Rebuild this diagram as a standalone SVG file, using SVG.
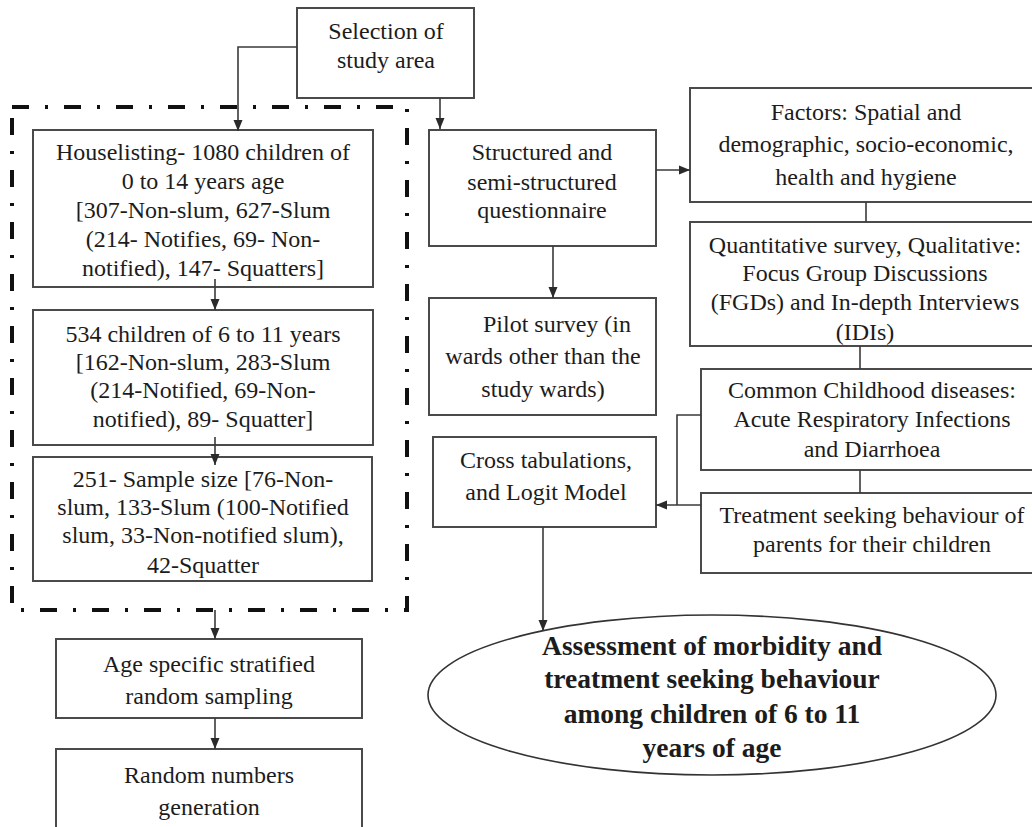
<svg xmlns="http://www.w3.org/2000/svg" width="1032" height="827" viewBox="0 0 1032 827">
<defs>
<marker id="arr" markerUnits="userSpaceOnUse" markerWidth="12" markerHeight="12" viewBox="0 0 12 12" refX="11" refY="6" orient="auto">
<path d="M0,1.5 L11,6 L0,10.5 Z" fill="#2a2a2a"/>
</marker>
<style>
.box{fill:#fff;stroke:#4a4a4a;stroke-width:2}
.t{font-size:24px;fill:#1c1c1c;text-anchor:middle}
.b{font-size:27.5px;font-weight:bold;fill:#1c1c1c;text-anchor:middle}
.c{fill:none;stroke:#3a3a3a;stroke-width:1.6}
.ca{fill:none;stroke:#3a3a3a;stroke-width:1.6;marker-end:url(#arr)}
.dash{fill:none;stroke:#111;stroke-width:4;stroke-dasharray:17 16 3 16}
</style>
</defs>
<rect width="1032" height="827" fill="#fff"/>

<g id="sampling-frame">
<rect class="dash" x="12" y="107" width="395" height="503"/>
</g>

<g font-family="Liberation Serif, Times New Roman, DejaVu Serif, serif">
<g id="selection">
<rect class="box" x="297" y="8" width="177" height="90"/>
<text class="t"><tspan x="386" y="39">Selection of</tspan><tspan x="386" y="68">study area</tspan></text>
</g>

<g id="houselisting">
<rect class="box" x="33" y="130" width="340" height="157"/>
<text class="t"><tspan x="203" y="160">Houselisting- 1080 children of</tspan><tspan x="203" y="189">0 to 14 years age</tspan><tspan x="203" y="218">[307-Non-slum, 627-Slum</tspan><tspan x="203" y="247">(214- Notifies, 69- Non-</tspan><tspan x="203" y="276">notified), 147- Squatters]</tspan></text>
</g>

<g id="children-534">
<rect class="box" x="33" y="310" width="340" height="135"/>
<text class="t"><tspan x="203" y="342">534 children of 6 to 11 years</tspan><tspan x="203" y="370">[162-Non-slum, 283-Slum</tspan><tspan x="203" y="398">(214-Notified, 69-Non-</tspan><tspan x="203" y="427">notified), 89- Squatter]</tspan></text>
</g>

<g id="sample-251">
<rect class="box" x="33" y="457" width="339" height="124"/>
<text class="t"><tspan x="203" y="487">251- Sample size [76-Non-</tspan><tspan x="203" y="515">slum, 133-Slum (100-Notified</tspan><tspan x="203" y="543">slum, 33-Non-notified slum),</tspan><tspan x="203" y="573">42-Squatter</tspan></text>
</g>

<g id="age-sampling">
<rect class="box" x="56" y="639" width="306" height="79"/>
<text class="t"><tspan x="209" y="672">Age specific stratified</tspan><tspan x="209" y="704">random sampling</tspan></text>
</g>

<g id="random-numbers">
<rect class="box" x="56" y="749" width="306" height="90"/>
<text class="t"><tspan x="209" y="783">Random numbers</tspan><tspan x="209" y="815">generation</tspan></text>
</g>

<g id="questionnaire">
<rect class="box" x="429" y="130" width="227" height="116"/>
<text class="t"><tspan x="542" y="160">Structured and</tspan><tspan x="542" y="190">semi-structured</tspan><tspan x="542" y="218">questionnaire</tspan></text>
</g>

<g id="pilot">
<rect class="box" x="429" y="298" width="227" height="117"/>
<text class="t"><tspan x="557" y="332">Pilot survey (in</tspan><tspan x="543" y="364">wards other than the</tspan><tspan x="543" y="397">study wards)</tspan></text>
</g>

<g id="cross-tab">
<rect class="box" x="433" y="437" width="223" height="90"/>
<text class="t"><tspan x="546" y="468">Cross tabulations,</tspan><tspan x="546" y="500">and Logit Model</tspan></text>
</g>

<g id="factors">
<rect class="box" x="690" y="88" width="360" height="114"/>
<text class="t"><tspan x="866" y="120">Factors: Spatial and</tspan><tspan x="866" y="152">demographic, socio-economic,</tspan><tspan x="866" y="185">health and hygiene</tspan></text>
</g>

<g id="survey">
<rect class="box" x="690" y="222" width="360" height="124"/>
<text class="t"><tspan x="865" y="253">Quantitative survey, Qualitative:</tspan><tspan x="865" y="281">Focus Group Discussions</tspan><tspan x="865" y="310">(FGDs) and In-depth Interviews</tspan><tspan x="865" y="340">(IDIs)</tspan></text>
</g>

<g id="diseases">
<rect class="box" x="701" y="369" width="349" height="101"/>
<text class="t"><tspan x="872" y="398">Common Childhood diseases:</tspan><tspan x="872" y="427">Acute Respiratory Infections</tspan><tspan x="872" y="457">and Diarrhoea</tspan></text>
</g>

<g id="treatment">
<rect class="box" x="701" y="493" width="349" height="80"/>
<text class="t"><tspan x="872" y="523">Treatment seeking behaviour of</tspan><tspan x="872" y="552">parents for their children</tspan></text>
</g>

<g id="assessment">
<ellipse cx="712" cy="695" rx="284" ry="80" fill="#fff" stroke="#333" stroke-width="1.6"/>
<text class="b"><tspan x="712" y="655">Assessment of morbidity and</tspan><tspan x="712" y="688">treatment seeking behaviour</tspan><tspan x="712" y="723">among children of 6 to 11</tspan><tspan x="712" y="757">years of age</tspan></text>
</g>
</g>

<g id="connectors">
<polyline class="ca" points="297,47 238,47 238,131"/>
<polyline class="ca" points="440,98 440,129"/>
<polyline class="ca" points="656,170 690,170"/>
<polyline class="c" points="866,202 866,222"/>
<polyline class="ca" points="553,246 553,298"/>
<polyline class="c" points="860,346 860,369"/>
<polyline class="c" points="860,470 860,493"/>
<polyline class="c" points="701,415 677,415 677,505"/>
<polyline class="ca" points="701,505 656,505"/>
<polyline class="ca" points="215,279 215,310"/>
<polyline class="ca" points="215,437 215,465"/>
<polyline class="ca" points="215,610 215,639"/>
<polyline class="ca" points="215,718 215,749"/>
<polyline class="ca" points="543,527 543,631"/>
</g>
</svg>
